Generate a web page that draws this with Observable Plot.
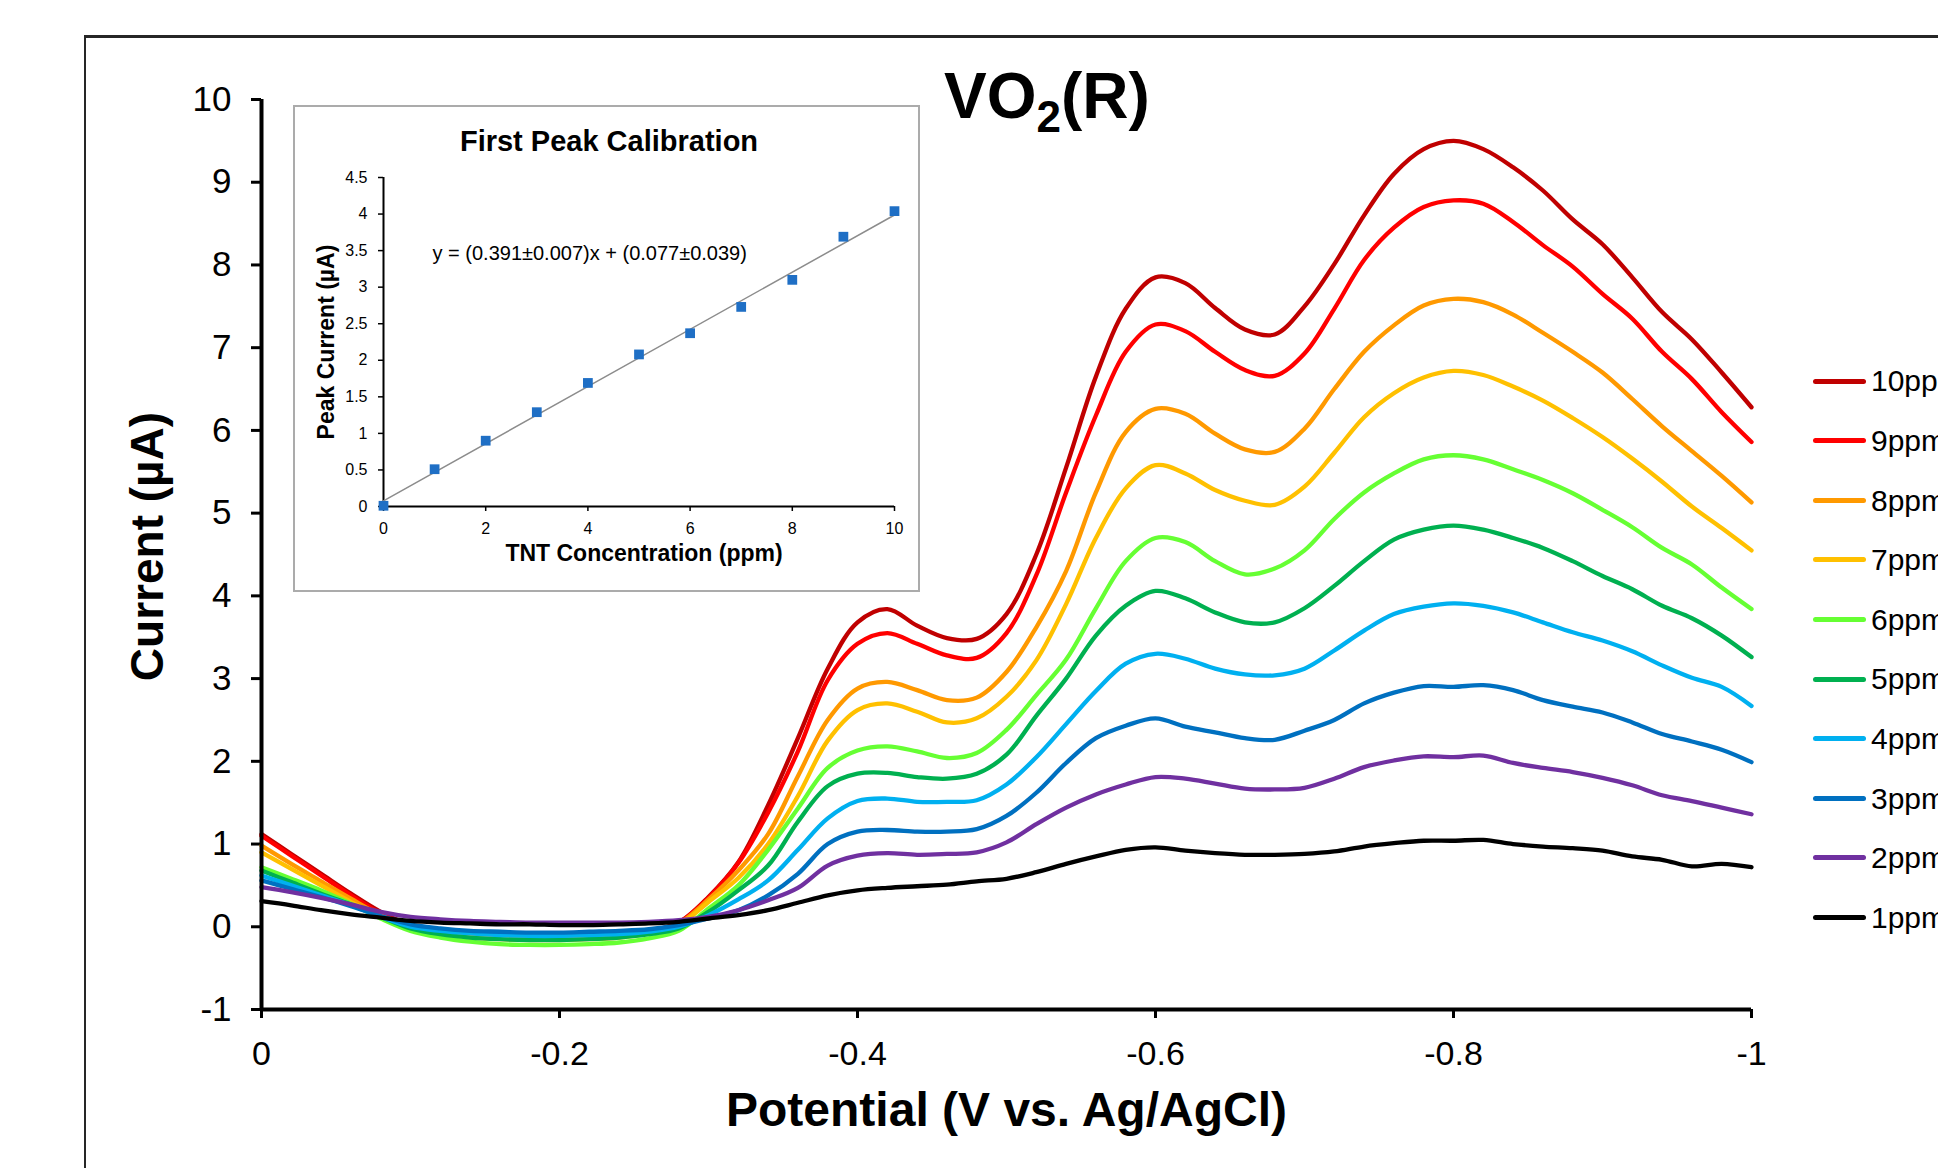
<!DOCTYPE html>
<html>
<head>
<meta charset="utf-8">
<script src="https://cdn.jsdelivr.net/npm/d3@7"></script>
<script src="https://cdn.jsdelivr.net/npm/@observablehq/plot@0.6"></script>
<style>
  html, body { margin: 0; padding: 0; width: 1938px; height: 1168px; overflow: hidden; background: #fff; }
  body { font-family: "Liberation Sans", Arial, sans-serif; }
  #page { position: relative; width: 1938px; height: 1168px; overflow: hidden; background: #fff; }
  #chartBorder { position: absolute; left: 84px; top: 35px; width: 2000px; height: 2000px;
    border-top: 3px solid #262626; border-left: 2px solid #262626; }
  #main { position: absolute; left: 0; top: 0; }
  #title { position: absolute; left: 944px; top: 64px; font-size: 64px; line-height: 64px; font-weight: bold; color: #000; white-space: nowrap; }
  #title .sub { font-size: 44px; position: relative; top: 14px; }
  #inset { position: absolute; left: 293px; top: 105px; width: 627px; height: 487px; background: #fff; }
  #insetBorder { position: absolute; left: 293px; top: 105px; width: 627px; height: 487px; box-sizing: border-box; border: 2px solid #ababab; pointer-events: none; }
  #legend { position: absolute; left: 0; top: 0; }
  .sw { position: absolute; left: 1813px; width: 53px; height: 5px; border-radius: 3px; }
  .lt { position: absolute; left: 1871px; font-size: 30px; line-height: 30px; color: #000; white-space: nowrap; }
</style>
</head>
<body>
<div id="page">
  <div id="chartBorder"></div>
  <div id="main"></div>
  <div id="title">VO<span class="sub">2</span>(R)</div>
  <div id="inset"></div>
  <div id="insetBorder"></div>
  <div id="legend"></div>
</div>
<script>
const FONT = '"Liberation Sans", Arial, sans-serif';

// ---------- main chart data ----------
const potential = [0, -0.02, -0.04, -0.06, -0.08, -0.10, -0.12, -0.14, -0.16, -0.18, -0.20, -0.22, -0.24, -0.26, -0.28, -0.30, -0.32, -0.34, -0.36, -0.38, -0.40, -0.42, -0.44, -0.46, -0.48, -0.50, -0.52, -0.54, -0.56, -0.58, -0.60, -0.62, -0.64, -0.66, -0.68, -0.70, -0.72, -0.74, -0.76, -0.78, -0.80, -0.82, -0.84, -0.86, -0.88, -0.90, -0.92, -0.94, -0.96, -0.98, -1.00];

const ppm10 = [1.12, 0.88, 0.64, 0.40, 0.18, 0.02, -0.05, -0.09, -0.11, -0.12, -0.12, -0.11, -0.09, -0.05, 0.05, 0.36, 0.78, 1.47, 2.28, 3.12, 3.68, 3.84, 3.64, 3.49, 3.48, 3.78, 4.50, 5.55, 6.65, 7.47, 7.85, 7.78, 7.48, 7.22, 7.16, 7.50, 8.01, 8.60, 9.10, 9.40, 9.50, 9.40, 9.18, 8.90, 8.55, 8.25, 7.85, 7.43, 7.10, 6.70, 6.28];
const ppm9  = [1.10, 0.86, 0.62, 0.38, 0.16, 0.00, -0.07, -0.11, -0.13, -0.14, -0.14, -0.13, -0.11, -0.06, 0.05, 0.35, 0.77, 1.38, 2.12, 2.98, 3.42, 3.55, 3.42, 3.28, 3.25, 3.55, 4.25, 5.25, 6.18, 6.95, 7.28, 7.20, 6.95, 6.73, 6.66, 6.93, 7.47, 8.06, 8.45, 8.70, 8.78, 8.74, 8.52, 8.24, 7.98, 7.65, 7.35, 6.95, 6.62, 6.22, 5.86];
const ppm8  = [0.98, 0.76, 0.55, 0.34, 0.14, -0.01, -0.08, -0.12, -0.14, -0.15, -0.15, -0.14, -0.12, -0.07, 0.04, 0.33, 0.68, 1.12, 1.82, 2.50, 2.88, 2.96, 2.86, 2.74, 2.77, 3.08, 3.62, 4.30, 5.25, 5.98, 6.26, 6.20, 5.96, 5.77, 5.74, 6.02, 6.50, 6.95, 7.27, 7.51, 7.59, 7.55, 7.40, 7.18, 6.95, 6.70, 6.38, 6.05, 5.75, 5.45, 5.13];
const ppm7  = [0.90, 0.70, 0.50, 0.30, 0.12, -0.02, -0.09, -0.13, -0.15, -0.16, -0.16, -0.15, -0.13, -0.08, 0.02, 0.30, 0.59, 1.00, 1.58, 2.25, 2.62, 2.70, 2.60, 2.47, 2.52, 2.78, 3.22, 3.90, 4.70, 5.30, 5.58, 5.48, 5.28, 5.15, 5.10, 5.32, 5.73, 6.16, 6.45, 6.64, 6.72, 6.67, 6.53, 6.36, 6.15, 5.92, 5.66, 5.38, 5.08, 4.82, 4.55];
const ppm6  = [0.72, 0.58, 0.44, 0.28, 0.10, -0.05, -0.13, -0.18, -0.21, -0.22, -0.22, -0.21, -0.19, -0.14, -0.05, 0.22, 0.50, 0.93, 1.43, 1.92, 2.13, 2.18, 2.12, 2.04, 2.10, 2.38, 2.80, 3.23, 3.85, 4.42, 4.70, 4.65, 4.42, 4.26, 4.33, 4.55, 4.93, 5.25, 5.48, 5.65, 5.70, 5.65, 5.53, 5.40, 5.24, 5.04, 4.83, 4.58, 4.38, 4.10, 3.84];
const ppm5  = [0.68, 0.54, 0.40, 0.27, 0.12, -0.02, -0.09, -0.13, -0.15, -0.16, -0.16, -0.15, -0.13, -0.09, -0.02, 0.18, 0.44, 0.74, 1.27, 1.70, 1.85, 1.86, 1.81, 1.79, 1.85, 2.08, 2.55, 3.00, 3.52, 3.88, 4.06, 3.97, 3.80, 3.68, 3.68, 3.85, 4.12, 4.42, 4.68, 4.80, 4.85, 4.80, 4.70, 4.58, 4.42, 4.24, 4.08, 3.88, 3.73, 3.52, 3.26];
const ppm4  = [0.62, 0.50, 0.38, 0.26, 0.12, 0.00, -0.05, -0.08, -0.10, -0.11, -0.11, -0.10, -0.09, -0.06, 0.00, 0.14, 0.33, 0.56, 0.93, 1.31, 1.52, 1.55, 1.51, 1.51, 1.53, 1.72, 2.05, 2.45, 2.85, 3.18, 3.30, 3.24, 3.12, 3.05, 3.04, 3.12, 3.34, 3.58, 3.78, 3.87, 3.91, 3.88, 3.80, 3.68, 3.56, 3.46, 3.33, 3.16, 3.01, 2.90, 2.67];
const ppm3  = [0.56, 0.46, 0.36, 0.25, 0.13, 0.03, -0.02, -0.05, -0.06, -0.07, -0.07, -0.06, -0.05, -0.03, 0.02, 0.10, 0.20, 0.38, 0.64, 1.00, 1.15, 1.17, 1.15, 1.15, 1.18, 1.34, 1.62, 1.98, 2.28, 2.43, 2.52, 2.42, 2.35, 2.28, 2.26, 2.37, 2.50, 2.70, 2.83, 2.91, 2.90, 2.92, 2.86, 2.74, 2.66, 2.59, 2.47, 2.33, 2.24, 2.14, 1.99];
const ppm2  = [0.48, 0.42, 0.35, 0.27, 0.18, 0.12, 0.09, 0.07, 0.06, 0.05, 0.05, 0.05, 0.05, 0.06, 0.08, 0.12, 0.20, 0.32, 0.47, 0.74, 0.86, 0.89, 0.87, 0.88, 0.90, 1.02, 1.24, 1.44, 1.60, 1.72, 1.81, 1.79, 1.73, 1.67, 1.66, 1.68, 1.79, 1.93, 2.01, 2.06, 2.05, 2.07, 1.98, 1.92, 1.87, 1.80, 1.71, 1.59, 1.52, 1.44, 1.36];
const ppm1  = [0.31, 0.26, 0.20, 0.15, 0.11, 0.07, 0.05, 0.04, 0.03, 0.03, 0.02, 0.02, 0.03, 0.04, 0.06, 0.10, 0.14, 0.20, 0.29, 0.38, 0.44, 0.47, 0.49, 0.51, 0.55, 0.58, 0.66, 0.76, 0.85, 0.93, 0.96, 0.92, 0.89, 0.87, 0.87, 0.88, 0.91, 0.97, 1.01, 1.04, 1.04, 1.05, 1.00, 0.97, 0.95, 0.92, 0.85, 0.81, 0.73, 0.76, 0.72];

const seriesLabels = ["10ppm", "9ppm", "8ppm", "7ppm", "6ppm", "5ppm", "4ppm", "3ppm", "2ppm", "1ppm"];
const seriesValues = [ppm10, ppm9, ppm8, ppm7, ppm6, ppm5, ppm4, ppm3, ppm2, ppm1];
const seriesColors = ["#C00000", "#FF0000", "#FF9900", "#FFC000", "#66FF33", "#00B050", "#00B0F0", "#0070C0", "#7030A0", "#000000"];

const xTicks = [0, -0.2, -0.4, -0.6, -0.8, -1];
const yTicks = [-1, 0, 1, 2, 3, 4, 5, 6, 7, 8, 9, 10];
const xTitle = "Potential (V vs. Ag/AgCl)";
const yTitle = "Current (µA)";

// ---------- inset (calibration) data ----------
const calConc = [0, 1, 2, 3, 4, 5, 6, 7, 8, 9, 10];
const calPeak = [0.01, 0.51, 0.90, 1.29, 1.69, 2.08, 2.37, 2.73, 3.10, 3.69, 4.04];
const fitSlope = 0.391;
const fitIntercept = 0.077;
const calXTicks = [0, 2, 4, 6, 8, 10];
const calYTicks = [0, 0.5, 1, 1.5, 2, 2.5, 3, 3.5, 4, 4.5];
const insetTitle = "First Peak Calibration";
const equation = "y = (0.391±0.007)x + (0.077±0.039)";
const insetXTitle = "TNT Concentration (ppm)";
const insetYTitle = "Peak Current (µA)";

// ---------- main plot ----------
const fmt = d => String(d);
const lineMarks = seriesValues.map((vals, k) =>
  Plot.line(potential.map((v, j) => ({V: v, I: vals[j]})), {
    x: "V", y: "I", stroke: seriesColors[k], strokeWidth: 4.3,
    strokeLinejoin: "round", strokeLinecap: "round", curve: "catmull-rom"
  })
);

const mainPlot = Plot.plot({
  width: 1938, height: 1168,
  marginLeft: 261, marginRight: 187, marginTop: 99, marginBottom: 159,
  style: {fontFamily: FONT, background: "transparent", color: "#000", overflow: "visible"},
  x: {domain: [0, -1]},
  y: {domain: [-1, 10]},
  marks: [
    Plot.axisX({ticks: xTicks, tickFormat: fmt, tickSize: 9, tickPadding: 22, fontSize: 34, strokeWidth: 3, label: null}),
    Plot.axisY({ticks: yTicks, tickFormat: fmt, tickSize: 10, tickPadding: 20, fontSize: 35, strokeWidth: 3, label: null}),
    ...lineMarks,
    Plot.ruleX([0], {strokeWidth: 4, stroke: "#000"}),
    Plot.ruleY([-1], {strokeWidth: 4, stroke: "#000"}),
    Plot.text([yTitle], {text: d => d, frameAnchor: "left", textAnchor: "middle", lineAnchor: "middle", dx: -113, dy: -8, rotate: -90, fontSize: 46, fontWeight: "bold", fill: "#000"}),
    Plot.text([xTitle], {text: d => d, frameAnchor: "bottom", textAnchor: "middle", lineAnchor: "middle", dy: 101, fontSize: 48, fontWeight: "bold", fill: "#000"})
  ]
});
document.getElementById("main").appendChild(mainPlot);

// ---------- inset plot ----------
const calData = calConc.map((c, i) => ({c, p: calPeak[i]}));
const fitData = [calConc[0], calConc[calConc.length - 1]].map(c => ({c, p: fitSlope * c + fitIntercept}));

const insetPlot = Plot.plot({
  width: 627, height: 487,
  marginLeft: 90, marginRight: 26, marginTop: 72, marginBottom: 86,
  style: {fontFamily: FONT, background: "#fff", color: "#000", overflow: "visible"},
  x: {domain: [0, 10]},
  y: {domain: [0, 4.5]},
  marks: [
    Plot.axisX({ticks: calXTicks, tickFormat: fmt, tickSize: 5, tickPadding: 11, fontSize: 16, strokeWidth: 1.5, label: null}),
    Plot.axisY({ticks: calYTicks, tickFormat: fmt, tickSize: 5, tickPadding: 11, fontSize: 16, strokeWidth: 1.5, label: null}),
    Plot.ruleX([0], {strokeWidth: 2, stroke: "#000"}),
    Plot.ruleY([0], {strokeWidth: 2, stroke: "#000"}),
    Plot.line(fitData, {x: "c", y: "p", stroke: "#8c8c8c", strokeWidth: 1.5}),
    Plot.dot(calData, {x: "c", y: "p", symbol: "square", r: 5.5, fill: "#1F6FC5", stroke: "none"}),
    Plot.text([insetTitle], {text: d => d, frameAnchor: "top", textAnchor: "middle", lineAnchor: "middle", dx: -30, dy: -36, fontSize: 29, fontWeight: "bold", fill: "#000"}),
    Plot.text([equation], {text: d => d, frameAnchor: "top-left", textAnchor: "start", lineAnchor: "middle", dx: 49, dy: 76, fontSize: 20, fill: "#000"}),
    Plot.text([insetYTitle], {text: d => d, frameAnchor: "left", textAnchor: "middle", lineAnchor: "middle", dx: -57, rotate: -90, fontSize: 23, fontWeight: "bold", fill: "#000"}),
    Plot.text([insetXTitle], {text: d => d, frameAnchor: "bottom", textAnchor: "middle", lineAnchor: "middle", dx: 5, dy: 47, fontSize: 23, fontWeight: "bold", fill: "#000"})
  ]
});
document.getElementById("inset").appendChild(insetPlot);

// ---------- legend ----------
const legend = document.getElementById("legend");
seriesLabels.forEach((lab, i) => {
  const cy = 381 + i * 59.6;
  const sw = document.createElement("div");
  sw.className = "sw";
  sw.style.top = (cy - 2.5) + "px";
  sw.style.background = seriesColors[i];
  legend.appendChild(sw);
  const t = document.createElement("div");
  t.className = "lt";
  t.style.top = (cy - 14.7) + "px";
  t.textContent = lab;
  legend.appendChild(t);
});
</script>
</body>
</html>
